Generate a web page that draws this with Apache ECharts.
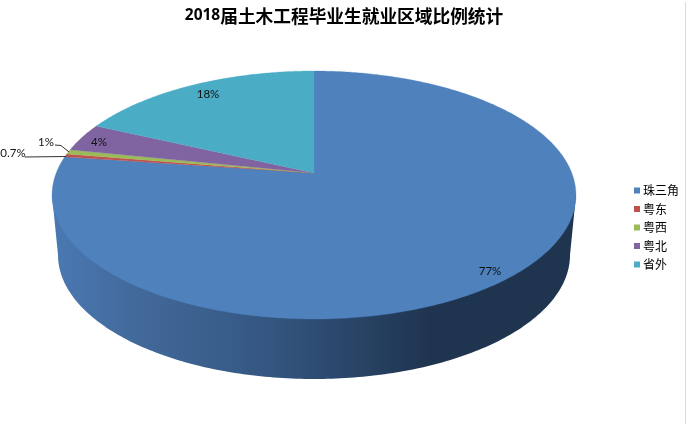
<!DOCTYPE html>
<html>
<head>
<meta charset="utf-8">
<style>html,body{margin:0;padding:0;background:#fff}#c{width:686px;height:427px}</style>
<script src="https://cdn.jsdelivr.net/npm/echarts@6/dist/echarts.min.js"></script>
</head>
<body>
<div id="c"></div>
<script>
const categories = ['珠三角', '粤东', '粤西', '粤北', '省外'];
// slice sizes (percent of the disc)
const sliceShares = [77.2, 0.4, 0.6, 3.7, 18.1];
// labels as printed on the chart
const percentLabels = ['77%', '0.7%', '1%', '4%', '18%'];
const colors = ['#4F81BD', '#C0504D', '#9BBB59', '#8064A2', '#4BACC6'];
const titleYear = '2018';
const titleRest = '届土木工程毕业生就业区域比例统计';

// projection of the tilted disc
const CX = 314, APEX_Y = 173, KY = 120.1, KX = 257.8, TILT = 0.1774;
const labelAnchor = [[490, 271], [13, 153], [46, 142], [99, 142], [208, 94]];
const leaders = [null, [[25, 157], [66, 156.5]], [[55, 145], [61, 145.5], [69, 152]], null, null];
const LABEL_FONT = '11.5px Lato, "Open Sans", sans-serif';

function project(theta) { // theta clockwise from the far point
  const u = Math.sin(theta), v = Math.cos(theta), d = 1 + TILT * v;
  return [CX + KX * u / d, APEX_Y - KY * v / d];
}
const total = sliceShares.reduce((a, b) => a + b, 0);

function sliceRender(idx) {
  return function (params, api) {
    const before = api.value(0), share = api.value(1);
    const a0 = before / total * Math.PI * 2, a1 = (before + share) / total * Math.PI * 2;
    const pts = [[CX, APEX_Y]];
    const n = Math.max(4, Math.ceil((a1 - a0) / 0.01));
    for (let i = 0; i <= n; i++) pts.push(project(a0 + (a1 - a0) * i / n));
    const children = [{
      type: 'polygon', shape: { points: pts },
      style: { fill: colors[idx], stroke: colors[idx], lineWidth: 0.3 }
    }];
    return { type: 'group', children };
  };
}
function labelRender(params, api) {
  const idx = params.dataIndex, children = [];
  if (leaders[idx]) {
    children.push({ type: 'polyline', shape: { points: leaders[idx] },
      style: { stroke: '#333', lineWidth: 1, fill: 'none' } });
  }
  children.push({ type: 'text', style: {
    text: percentLabels[idx], x: labelAnchor[idx][0], y: labelAnchor[idx][1],
    align: 'center', verticalAlign: 'middle', font: LABEL_FONT, fill: '#111' } });
  return { type: 'group', children };
}
function sideRender(params, api) {
  const pts = [[52, 195]];
  const LCX = 314, LCY = 255, LRX = 256, LRY = 124;
  for (let i = 0; i <= 180; i++) {
    const t = Math.PI - Math.PI * i / 180;
    pts.push([LCX + LRX * Math.cos(t), LCY + LRY * Math.sin(t)]);
  }
  pts.push([576, 195]);
  return { type: 'polygon', shape: { points: pts }, style: {
    fill: new echarts.graphic.LinearGradient(0, 0, 1, 0, [
      { offset: 0, color: '#4A79B3' },
      { offset: 0.15, color: '#436A9C' },
      { offset: 0.35, color: '#385C88' },
      { offset: 0.5, color: '#2E4D74' },
      { offset: 0.72, color: '#1F344F' },
      { offset: 1, color: '#1F344F' }
    ]) } };
}

let running = 0;
const sliceSeries = categories.map((name, i) => {
  const item = { name: String(name), value: [running, sliceShares[i]] };
  running += sliceShares[i];
  return {
    type: 'custom', name, coordinateSystem: 'none', silent: true, animation: false, z: 3,
    itemStyle: { color: colors[i] }, renderItem: sliceRender(i), data: [item]
  };
});

const chart = echarts.init(document.getElementById('c'), null, { renderer: 'canvas' });
chart.setOption({
  animation: false,
  backgroundColor: '#fff',
  title: {
    text: '{y|' + titleYear + '}{c|' + titleRest + '}',
    left: 339, top: 2, textAlign: 'center',
    textStyle: { rich: {
      y: { fontFamily: '"Open Sans", sans-serif', fontWeight: 'bold', fontSize: 15.5, color: '#000' },
      c: { fontFamily: '"Noto Sans CJK SC"', fontWeight: 'bold', fontSize: 17.7, color: '#000' }
    } }
  },
  legend: {
    orient: 'vertical', left: 634, top: 184.5,
    icon: 'rect', itemWidth: 6, itemHeight: 6, itemGap: 6.5,
    padding: 0,
    data: categories,
    selectedMode: false,
    textStyle: { fontFamily: '"Noto Sans CJK SC"', fontSize: 12, color: '#000', lineHeight: 12, padding: [0, 0, 0, -2] }
  },
  series: [
    { type: 'custom', name: '侧面', coordinateSystem: 'none', silent: true, animation: false, z: 2,
      renderItem: sideRender, data: [[0]] },
    ...sliceSeries,
    { type: 'custom', name: '标签', coordinateSystem: 'none', silent: true, animation: false, z: 4,
      renderItem: labelRender, data: percentLabels.map((t, i) => [i]) }
  ],
  graphic: [
    { type: 'line', silent: true, shape: { x1: 685.5, y1: 2, x2: 685.5, y2: 424 },
      style: { stroke: '#D9D9D9', lineWidth: 1 } }
  ]
});
</script>
</body>
</html>
